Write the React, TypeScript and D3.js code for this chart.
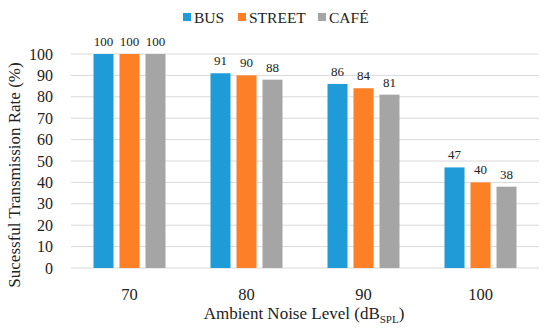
import * as d3 from "d3";

const categories = ["70", "80", "90", "100"];
const seriesNames = ["BUS", "STREET", "CAFÉ"];
const bus = [100, 91, 86, 47];
const street = [100, 90, 84, 40];
const cafe = [100, 88, 81, 38];
const yTicks = [0, 10, 20, 30, 40, 50, 60, 70, 80, 90, 100];
const colors = ["#1f9bd8", "#fd7f26", "#a5a5a5"];

const width = 550, height = 332;
const margin = { top: 54, right: 11, bottom: 64, left: 71 };
const font = "Liberation Serif";

const App = () => {
  const series = [bus, street, cafe];
  const x = d3
    .scaleBand()
    .domain(categories)
    .range([margin.left, width - margin.right]);
  const y = d3
    .scaleLinear()
    .domain([0, 100])
    .range([height - margin.bottom, margin.top]);
  // bars 20px wide, 6px apart
  const inner = d3
    .scaleBand()
    .domain(seriesNames)
    .range([0, 72])
    .paddingInner(6 / 26)
    .paddingOuter(0);
  const off = (x.bandwidth() - 72) / 2;

  const legendX = [183, 238, 318];

  return (
    <svg width={width} height={height} style={{ display: "block", position: "absolute", left: 0, top: 0, fontFamily: font }}>
      <rect width={width} height={height} fill="#fff" />
      {yTicks.map((t) => (
        <g key={t}>
          <line x1={margin.left} x2={width - margin.right} y1={y(t)} y2={y(t)} stroke="#d9d9d9" strokeWidth={1} />
          <text x={margin.left - 18} y={y(t)} dy="0.35em" textAnchor="end" fontSize={16} fill="#222" style={{ fontFamily: font }}>
            {t}
          </text>
        </g>
      ))}
      {categories.map((c, i) => (
        <g key={c}>
          {series.map((s, j) => {
            const bx = (x(c) as number) + off + (inner(seriesNames[j]) as number);
            return (
              <g key={j}>
                <rect x={bx} y={y(s[i])} width={inner.bandwidth()} height={y(0) - y(s[i])} fill={colors[j]} />
                <text x={bx + inner.bandwidth() / 2} y={y(s[i]) - 8} textAnchor="middle" fontSize={13} fill="#222" style={{ fontFamily: font }}>
                  {s[i]}
                </text>
              </g>
            );
          })}
          <text x={(x(c) as number) + x.bandwidth() / 2} y={y(0) + 32} textAnchor="middle" fontSize={16.5} fill="#222" style={{ fontFamily: font }}>
            {c}
          </text>
        </g>
      ))}
      {seriesNames.map((n, j) => (
        <g key={n}>
          <rect x={legendX[j]} y={13} width={8} height={8} fill={colors[j]} />
          <text x={legendX[j] + 11} y={22.5} fontSize={15.5} fill="#222" style={{ fontFamily: font }}>
            {n}
          </text>
        </g>
      ))}
      <text x={304} y={319} textAnchor="middle" fontSize={17} fill="#222" style={{ fontFamily: font }}>
        Ambient Noise Level (dB<tspan fontSize={11} dy={4}>SPL</tspan><tspan dy={-4}>)</tspan>
      </text>
      <text transform={`translate(20,${(margin.top + height - margin.bottom) / 2 + 14}) rotate(-90)`} textAnchor="middle" fontSize={17} fill="#222" style={{ fontFamily: font }}>
        Sucessful Transmission Rate (%)
      </text>
    </svg>
  );
};

export default App;
